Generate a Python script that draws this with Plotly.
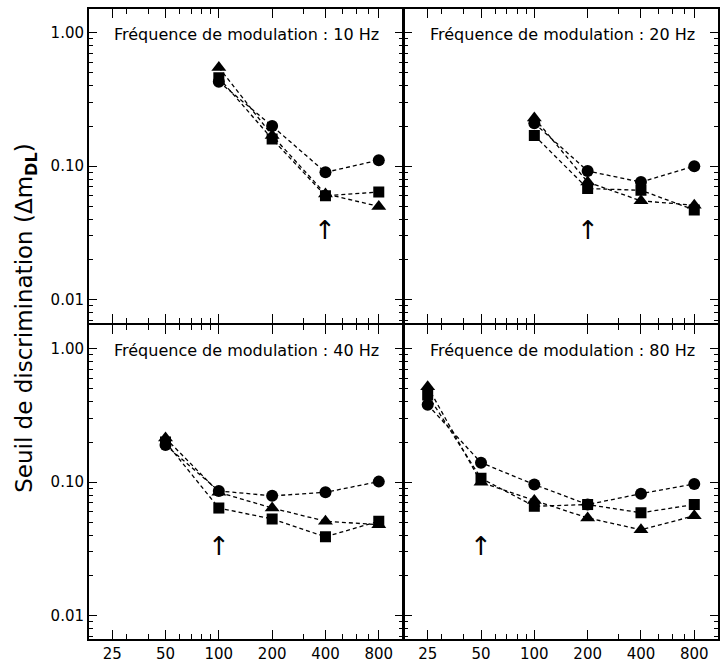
import math
import plotly.graph_objects as go

# ---- data ----
panel_titles = ["Fréquence de modulation : 10 Hz", "Fréquence de modulation : 20 Hz",
                "Fréquence de modulation : 40 Hz", "Fréquence de modulation : 80 Hz"]

x_10 = [100, 200, 400, 800]
circle_10 = [0.43, 0.20, 0.090, 0.111]
square_10 = [0.46, 0.16, 0.060, 0.064]
triangle_10 = [0.55, 0.17, 0.062, 0.050]

x_20 = [100, 200, 400, 800]
circle_20 = [0.21, 0.092, 0.076, 0.100]
square_20 = [0.17, 0.068, 0.066, 0.047]
triangle_20 = [0.23, 0.076, 0.055, 0.051]

x_40 = [50, 100, 200, 400, 800]
circle_40 = [0.19, 0.086, 0.079, 0.084, 0.101]
square_40 = [0.20, 0.064, 0.053, 0.039, 0.051]
triangle_40 = [0.214, 0.084, 0.064, 0.051, 0.048]

x_80 = [25, 50, 100, 200, 400, 800]
circle_80 = [0.38, 0.14, 0.096, 0.068, 0.082, 0.097]
square_80 = [0.45, 0.107, 0.066, 0.068, 0.059, 0.068]
triangle_80 = [0.52, 0.100, 0.073, 0.054, 0.044, 0.056]

arrow_x = [400, 200, 100, 50]
arrow_y = 0.033

x_tickvals = [25, 50, 100, 200, 400, 800]
x_ticktext = ["25", "50", "100", "200", "400", "800"]
x_minor = [30, 40, 60, 70, 80, 90, 300, 500, 600, 700]
y_tickvals = [0.01, 0.1, 1.0]
y_ticktext = ["0.01", "0.10", "1.00"]
y_minor = [0.007, 0.008, 0.009, 0.02, 0.03, 0.04, 0.05, 0.06, 0.07, 0.08, 0.09,
           0.2, 0.3, 0.4, 0.5, 0.6, 0.7, 0.8, 0.9]

panels = [
    (x_10, circle_10, square_10, triangle_10),
    (x_20, circle_20, square_20, triangle_20),
    (x_40, circle_40, square_40, triangle_40),
    (x_80, circle_80, square_80, triangle_80),
]

fig = go.Figure()
axis_names = [("x", "y"), ("x2", "y2"), ("x3", "y3"), ("x4", "y4")]
symbols = [("triangle-up", 13), ("square", 11), ("circle", 12)]

for i, (xs, c, s, t) in enumerate(panels):
    xa, ya = axis_names[i]
    for (sym, sz), ys in zip(symbols, [t, s, c]):
        fig.add_trace(go.Scatter(
            x=xs, y=ys, mode="lines+markers", xaxis=xa, yaxis=ya,
            line=dict(color="black", width=1.3, dash="4px,3px"),
            marker=dict(symbol=sym, size=sz, color="black"),
            showlegend=False, hoverinfo="skip"))

W, H = 727, 670
ML, MR, MT, MB = 89, 7, 8, 25
gx = 1.0 / (W - ML - MR)
gy = 1.0 / (H - MT - MB)
dom_x = [[0, 0.5 - gx], [0.5 + gx, 1], [0, 0.5 - gx], [0.5 + gx, 1]]
dom_y = [[0.5 + gy, 1], [0.5 + gy, 1], [0, 0.5 - gy], [0, 0.5 - gy]]

layout = dict(
    width=W, height=H,
    margin=dict(l=ML, r=MR, t=MT, b=MB),
    paper_bgcolor="white", plot_bgcolor="white",
    font=dict(family="DejaVu Sans", color="black"),
)
for i in range(4):
    sfx = "" if i == 0 else str(i + 1)
    bottom = i >= 2
    left = i in (0, 2)
    layout["xaxis" + sfx] = dict(
        type="log", range=[1.267, 3.037], domain=dom_x[i],
        anchor="y" + sfx, showgrid=False, zeroline=False,
        showline=True, linecolor="black", linewidth=2, mirror="ticks",
        ticks="inside", ticklen=9, tickwidth=1.3, tickcolor="black",
        tickmode="array", tickvals=x_tickvals, ticktext=x_ticktext,
        showticklabels=bottom, tickfont=dict(size=15, family="DejaVu Sans"),
        minor=dict(tickmode="array", tickvals=x_minor, ticks="inside",
                   ticklen=5, tickwidth=1.2, tickcolor="black", showgrid=False),
    )
    layout["yaxis" + sfx] = dict(
        type="log", range=[-2.175, 0.178], domain=dom_y[i],
        anchor="x" + sfx, showgrid=False, zeroline=False,
        showline=True, linecolor="black", linewidth=2, mirror="ticks",
        ticks="inside", ticklen=8, tickwidth=1.3, tickcolor="black",
        tickmode="array", tickvals=y_tickvals, ticktext=y_ticktext,
        showticklabels=left, tickfont=dict(size=15, family="DejaVu Sans"),
        minor=dict(tickmode="array", tickvals=y_minor, ticks="inside",
                   ticklen=4, tickwidth=1.2, tickcolor="black", showgrid=False),
    )
fig.update_layout(**layout)

annotations = []
for i in range(4):
    sfx = "" if i == 0 else str(i + 1)
    annotations.append(dict(
        text=panel_titles[i], xref="x" + sfx + " domain",
        yref="y" + sfx + " domain",
        x=0.503, y=0.918, xanchor="center", yanchor="middle",
        showarrow=False, font=dict(size=16, family="DejaVu Sans")))
    annotations.append(dict(
        text="↑", xref="x" + sfx, yref="y" + sfx,
        x=math.log10(arrow_x[i]), y=math.log10(arrow_y),
        xanchor="center", yanchor="middle", showarrow=False,
        font=dict(size=26, family="DejaVu Sans")))
annotations.append(dict(
    text="Seuil de discrimination (Δm<sub><b>DL</b></sub>)",
    xref="paper", yref="paper", x=-0.1, y=0.51, textangle=-90,
    xanchor="center", yanchor="middle", showarrow=False,
    font=dict(size=23, family="DejaVu Sans")))
fig.update_layout(annotations=annotations)

fig.write_html("out.html", config={"displayModeBar": False},
               post_script="document.body.style.margin='0';")
